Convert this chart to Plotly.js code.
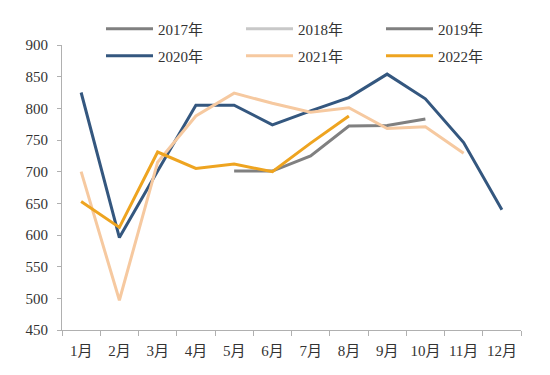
<!DOCTYPE html>
<html><head><meta charset="utf-8">
<script src="https://cdn.plot.ly/plotly-3.0.1.min.js"></script>
<style>html,body{margin:0;padding:0;background:#fff}#c{width:550px;height:375px}</style>
</head><body><div id="c"></div>
<script>
const months = ['1月','2月','3月','4月','5月','6月','7月','8月','9月','10月','11月','12月'];
const names = ['2017年','2018年','2019年','2020年','2021年','2022年'];
const s2017 = [null,null,null,null,null,null,null,null,null,null,null,null];
const s2018 = [null,null,null,null,null,null,null,null,null,null,null,null];
const s2019 = [null,null,null,null,701,701,725,772,773,783,null,null];
const s2020 = [825,596,701,805,805,774,796,817,854,815,746,640];
const s2021 = [700,497,715,788,824,808,794,801,768,771,729,null];
const s2022 = [653,612,731,705,712,700,745,788,null,null,null,null];
const colors = ['#808080','#c8c8c8','#808080','#34577f','#f6c9a0','#eea420'];
const series = [s2017,s2018,s2019,s2020,s2021,s2022];
const FONT = 'Liberation Serif, Times New Roman, Noto Sans CJK SC, serif';
const legIds = ['legend','legend2','legend3','legend4','legend5','legend6'];
const traces = series.map((s,i)=>({
  x: months, y: s, name: names[i], type:'scatter', mode:'lines',
  line:{color:colors[i], width:3}, connectgaps:false, showlegend:true,
  legend: legIds[i]
}));
const legBase = {orientation:'h', xref:'container', yref:'container', xanchor:'left', yanchor:'middle',
  itemwidth:47, font:{family:FONT,size:15,color:'#333'},
  bgcolor:'rgba(0,0,0,0)', borderwidth:0};
const colX = [101,241,381];
const rowY = [29,56];
const layout = {
  width:550, height:375, margin:{l:62,r:29,t:45,b:45, autoexpand:false},
  paper_bgcolor:'#fff', plot_bgcolor:'#fff',
  font:{family:FONT,size:15,color:'#333'},
  showlegend:true,
  xaxis:{type:'category', tickson:'boundaries', ticks:'outside', ticklen:5, tickcolor:'#b0b0b0', tickangle:0,
    showline:true, linecolor:'#b0b0b0', linewidth:1, showgrid:false, zeroline:false, ticklabelstandoff:7,
    tickfont:{family:FONT,size:15,color:'#333'}, range:[-0.5,11.5]},
  yaxis:{range:[450,900], tickvals:[450,500,550,600,650,700,750,800,850,900], ticks:'outside', ticklen:4,
    tickcolor:'#b0b0b0', showline:true, linecolor:'#b0b0b0', linewidth:1, showgrid:false, zeroline:false,
    tickfont:{family:FONT,size:15,color:'#333'}, ticklabelstandoff:6}
};
legIds.forEach((id,i)=>{
  layout[id] = Object.assign({}, legBase, {x: colX[i%3]/550, y: 1 - rowY[Math.floor(i/3)]/375});
});
Plotly.newPlot('c', traces, layout, {displayModeBar:false, staticPlot:true});
</script></body></html>
